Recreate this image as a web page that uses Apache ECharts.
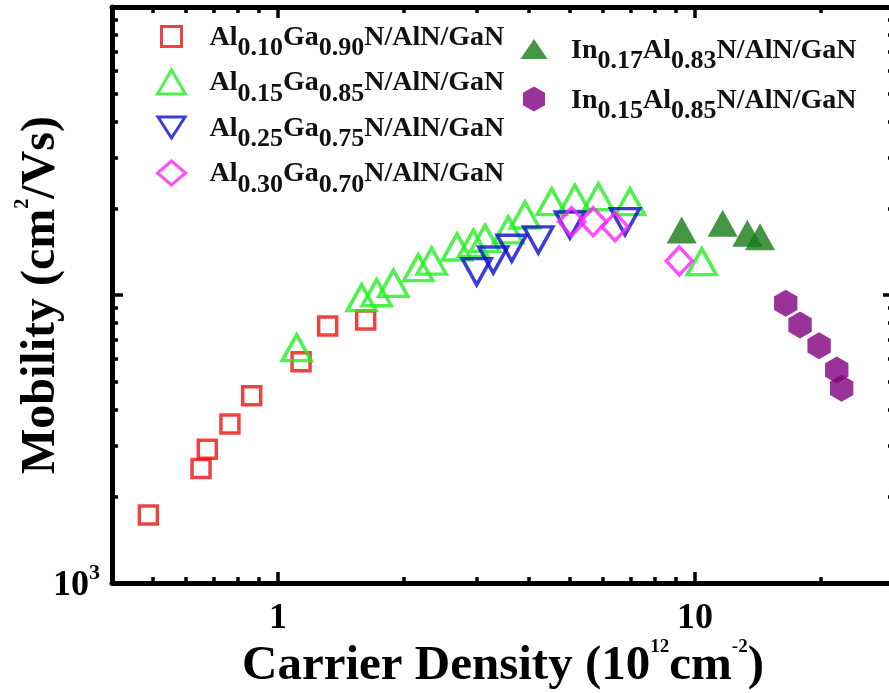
<!DOCTYPE html>
<html>
<head>
<meta charset="utf-8">
<script src="https://cdn.jsdelivr.net/npm/echarts@6/dist/echarts.min.js"></script>
<style>
  html, body { margin: 0; padding: 0; background: #ffffff; }
  #chart { width: 889px; height: 693px; }
</style>
</head>
<body>
<div id="chart"></div>
<script>
// Hall mobility vs. sheet carrier density for several barrier compositions
const seriesNames = [
  'Al0.10Ga0.90N/AlN/GaN',
  'Al0.15Ga0.85N/AlN/GaN',
  'Al0.25Ga0.75N/AlN/GaN',
  'Al0.30Ga0.70N/AlN/GaN',
  'In0.17Al0.83N/AlN/GaN',
  'In0.15Al0.85N/AlN/GaN'
];

// carrier density (1e12 cm^-2) and mobility (cm^2/Vs)
const al10Density  = [0.489, 0.654, 0.677, 0.767, 0.865, 1.136, 1.316, 1.623];
const al10Mobility = [1722, 2500, 2912, 3565, 4470, 5868, 7806, 8188];

const al15Density  = [1.109, 1.587, 1.724, 1.891, 2.170, 2.336, 2.687, 2.940, 3.137, 3.566, 3.911, 4.533, 5.154, 5.864, 6.985, 10.38];
const al15Mobility = [6562, 9790, 10180, 10980, 12440, 13120, 14680, 15120, 15730, 16820, 18960, 21090, 21670, 21940, 21090, 13050];

const al25Density  = [2.996, 3.282, 3.635, 4.210, 5.013, 6.795];
const al25Mobility = [12050, 13230, 14530, 15530, 17500, 17970];

const al30Density  = [5.06, 5.70, 6.43, 9.17];
const al30Mobility = [17970, 17970, 17270, 13130];

const in17Density  = [9.29, 11.65, 13.35, 14.32];
const in17Mobility = [16820, 17740, 16380, 15940];

const in15Density  = [16.5, 17.86, 19.84, 21.87, 22.47];
const in15Mobility = [9357, 7870, 6668, 5490, 4743];

// axis ticks
const xMajorTicks = [1, 10];
const xMinorTicks = [0.5, 0.6, 0.7, 0.8, 0.9, 2, 3, 4, 5, 6, 7, 8, 9, 20];
const xTickLabels = [1, 10];
const yMajorTicks = [10000];
const yMinorTicks = [2000, 3000, 4000, 5000, 6000, 7000, 8000, 9000,
                     20000, 30000, 40000, 50000, 60000, 70000, 80000, 90000];
const yTickLabels = [1000];

const FONT = "'Liberation Serif', 'Times New Roman', serif";
const hexagon = 'path://M0,-10L8.66,-5L8.66,5L0,10L-8.66,5L-8.66,-5Z';

// legend icons (the leading moves pad the icon inside its box)
const legendIcons = [
  'path://M0,0M28,24M4,2H24V22H4Z',
  'triangle',
  'path://M0,0M28,24M0.5,1.5H27.5L14,22.5Z',
  'diamond',
  'path://M0,0M28,26M0.5,23L14,3L27.5,23Z',
  'path://M0,0M28,26M14,0.5L25,6.8L25,19.2L14,25.5L3,19.2L3,6.8Z'
];

function pairs(xs, ys) { return xs.map((x, i) => [x, ys[i]]); }

// rich-text name: composition numbers become subscripts
function richName(name) {
  return '{g| }' + name.split(/(\d\.\d+)/).filter(s => s.length)
    .map(s => /^\d\.\d+$/.test(s) ? '{s|' + s + '}' : '{m|' + s + '}').join('');
}

function legendRich(gap, raise) {
  return {
    g: { width: gap, fontSize: 10, lineHeight: 20 },
    m: { fontFamily: FONT, fontWeight: 'bold', fontSize: 28, color: '#111', lineHeight: 50,
         verticalAlign: 'bottom', padding: [0, 0, raise, 0] },
    s: { fontFamily: FONT, fontWeight: 'bold', fontSize: 26, color: '#111', lineHeight: 50,
         verticalAlign: 'bottom' }
  };
}

function axisPair(pos, min, max, major, minor, extra) {
  const base = {
    type: 'log', logBase: 10, min: min, max: max, position: pos,
    splitLine: { show: false }, minorTick: { show: false }
  };
  const majorAxis = Object.assign({}, base, {
    axisLine: { show: true, lineStyle: { color: '#000', width: 5 } },
    axisTick: { show: true, inside: true, length: 11, lineStyle: { color: '#000', width: 3.5 }, customValues: major },
    axisLabel: { show: false }
  }, extra || {});
  const minorAxis = Object.assign({}, base, {
    axisLine: { show: false },
    axisTick: { show: true, inside: true, length: 6, lineStyle: { color: '#000', width: 3.5 }, customValues: minor },
    axisLabel: { show: false }
  });
  return [majorAxis, minorAxis];
}

const xAxes = [].concat(
  axisPair('bottom', 0.4, 30, xMajorTicks, xMinorTicks, {
    axisLabel: {
      show: true, customValues: xTickLabels, margin: 18,
      fontFamily: FONT, fontWeight: 'bold', fontSize: 36, color: '#000'
    },
    name: '{m|Carrier Density (10}{s|12}{m|cm}{s|-2}{m|)}',
    nameLocation: 'middle', nameGap: 50, nameMoveOverlap: false,
    nameTextStyle: {
      rich: {
        m: { fontFamily: FONT, fontWeight: 'bold', fontSize: 49, color: '#000', lineHeight: 58, verticalAlign: 'bottom' },
        s: { fontFamily: FONT, fontWeight: 'bold', fontSize: 19, color: '#000', lineHeight: 58, verticalAlign: 'top',
             padding: [5, 0, 0, 0] }
      }
    }
  }),
  axisPair('top', 0.4, 30, xMajorTicks, xMinorTicks)
);

const yAxes = [].concat(
  axisPair('left', 1000, 100000, yMajorTicks, yMinorTicks, {
    axisLabel: {
      show: true, customValues: yTickLabels, margin: 12,
      formatter: () => '{a|10}{b|3}',
      rich: {
        a: { fontFamily: FONT, fontWeight: 'bold', fontSize: 36, color: '#000', lineHeight: 42, verticalAlign: 'bottom' },
        b: { fontFamily: FONT, fontWeight: 'bold', fontSize: 22, color: '#000', lineHeight: 42, verticalAlign: 'top' }
      }
    },
    name: '{m|Mobility (cm}{s|2}{m|/Vs)}',
    nameLocation: 'middle', nameGap: 46, nameRotate: 90, nameMoveOverlap: false,
    nameTextStyle: {
      rich: {
        m: { fontFamily: FONT, fontWeight: 'bold', fontSize: 48, color: '#000', lineHeight: 56, verticalAlign: 'bottom' },
        s: { fontFamily: FONT, fontWeight: 'bold', fontSize: 20, color: '#000', lineHeight: 56, verticalAlign: 'top',
             padding: [3, 0, 0, 0] }
      }
    }
  }),
  axisPair('right', 1000, 100000, yMajorTicks, yMinorTicks)
);

const openStyle = (c) => ({ color: 'rgba(255,255,255,0)', borderColor: c, borderWidth: 3.5 });

const series = [
  { name: seriesNames[0], type: 'scatter', data: pairs(al10Density, al10Mobility),
    symbol: 'rect', symbolSize: 18, itemStyle: openStyle('#e81414') },
  { name: seriesNames[1], type: 'scatter', data: pairs(al15Density, al15Mobility),
    symbol: 'triangle', symbolSize: [29, 26], itemStyle: openStyle('#22ee22') },
  { name: seriesNames[2], type: 'scatter', data: pairs(al25Density, al25Mobility),
    symbol: 'triangle', symbolRotate: 180, symbolSize: [29, 26], itemStyle: openStyle('#0c0cd0') },
  { name: seriesNames[3], type: 'scatter', data: pairs(al30Density, al30Mobility),
    symbol: 'diamond', symbolSize: [26, 28], itemStyle: openStyle('#ff22ff') },
  { name: seriesNames[4], type: 'scatter', data: pairs(in17Density, in17Mobility),
    symbol: 'triangle', symbolSize: [30, 27], itemStyle: { color: '#157a15', borderWidth: 0 } },
  { name: seriesNames[5], type: 'scatter', data: pairs(in15Density, in15Mobility),
    symbol: hexagon, symbolKeepAspect: true, symbolSize: 27, itemStyle: { color: '#800080', borderWidth: 0 } }
].map(s => Object.assign(s, { xAxisIndex: 0, yAxisIndex: 0, emphasis: { disabled: true }, animation: false }));

const legendCommon = {
  orient: 'vertical', padding: 0, itemWidth: 28,
  selectedMode: false,
  itemStyle: { borderWidth: 3 },
  formatter: richName
};

const option = {
  backgroundColor: '#ffffff',
  animation: false,
  grid: { left: 112, top: 7, width: 782, height: 576, containLabel: false, outerBoundsMode: 'none' },
  xAxis: xAxes,
  yAxis: yAxes,
  legend: [
    Object.assign({}, legendCommon, {
      left: 156, top: 23, itemHeight: 24, itemGap: 7,
      textStyle: { rich: legendRich(19, 10) },
      data: seriesNames.slice(0, 4).map((n, i) => ({ name: n, icon: legendIcons[i] }))
    }),
    Object.assign({}, legendCommon, {
      left: 520, top: 36, itemHeight: 26, itemGap: 12,
      textStyle: { rich: legendRich(18, 9) },
      data: [
        { name: seriesNames[4], icon: legendIcons[4], itemStyle: { borderWidth: 0 } },
        { name: seriesNames[5], icon: legendIcons[5], itemStyle: { borderWidth: 0 } }
      ]
    })
  ],
  series: series
};

const chart = echarts.init(document.getElementById('chart'), null, { renderer: 'canvas' });
chart.setOption(option);
</script>
</body>
</html>
